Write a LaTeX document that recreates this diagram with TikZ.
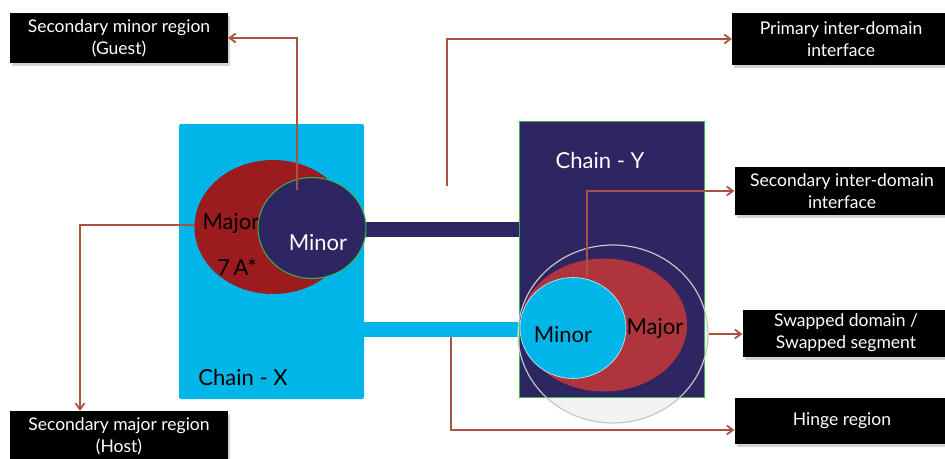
\documentclass[tikz,border=0pt]{standalone}
\usepackage{fontspec}
\setmainfont{Lato}
\usetikzlibrary{arrows.meta,shapes.geometric,shadows,calc}
\definecolor{cyanx}{RGB}{0,181,232}
\definecolor{navyy}{RGB}{46,37,99}
\definecolor{redl}{RGB}{155,27,31}
\definecolor{redr}{RGB}{176,52,62}
\definecolor{arrbrown}{RGB}{168,82,64}
\definecolor{greenb}{RGB}{60,180,80}
\tikzset{
  lbox/.style={fill=black, text=white, align=center, inner sep=0pt,
    font=\fontsize{17.5}{22}\selectfont,
    drop shadow={shadow xshift=2pt, shadow yshift=-3pt, opacity=0.35, fill=gray}},
  arr/.style={draw=arrbrown, line width=1.8pt, -{Straight Barb[length=6pt,width=9pt]}},
  blob/.style={ellipse, inner sep=0pt},
  big/.style={font=\fontsize{22}{24}\selectfont},
}
\begin{document}
\begin{tikzpicture}[x=1pt,y=-1pt]
\path[use as bounding box] (0,0) rectangle (945,458);
% label boxes
\node[lbox, minimum width=218, minimum height=50] (guest) at (119,38) {Secondary minor region\\(Guest)};
\node[lbox, minimum width=218, minimum height=50] (host) at (119,436) {Secondary major region\\(Host)};
\node[lbox, minimum width=218, minimum height=52] (primary) at (841,39) {Primary inter-domain\\interface};
\node[lbox, minimum width=215, minimum height=48] (secint) at (842,191) {Secondary inter-domain\\interface};
\node[lbox, minimum width=207, minimum height=47] (swap) at (846,333) {Swapped domain /\\Swapped segment};
\node[lbox, minimum width=215, minimum height=46] (hinge) at (842,421) {Hinge region};
% chain X
\node[fill=cyanx, rounded corners=2pt, minimum width=185, minimum height=275, inner sep=0pt] (chx) at (271.5,261.5) {};
% bars
\node[fill=navyy, minimum width=159, minimum height=15, inner sep=0pt] (barn) at (440,229.5) {};
\node[fill=cyanx, minimum width=166, minimum height=15, inner sep=0pt] (barc) at (447,329.5) {};
% chain Y with big circle
\node[blob, fill=gray!10, minimum width=190, minimum height=178] (bigcf) at (613,334) {};
\node[fill=navyy, draw=greenb, line width=0.6pt, minimum width=185, minimum height=276, inner sep=0pt] (chy) at (611.5,259) {};
\node[text=white, big] (chylab) at (600,160) {Chain - Y};
% left domains
\node[blob, fill=redl, minimum width=157, minimum height=134] (majl) at (273,227) {};
\node[big] (majltxt) at (231,223) {Major};
\node[big] (sevena) at (237,267) {7\,A*};
\node[blob, fill=navyy, draw=greenb, line width=1pt, minimum width=108, minimum height=101] (minl) at (312,228) {};
\node[big, text=white] (minltxt) at (318,243) {Minor};
\node[big] (chxlab) at (243,377) {Chain - X};
% right domains
\node[blob, fill=redr, minimum width=166, minimum height=133] (majr) at (604,325) {};
\node[blob, fill=cyanx, draw=white!80!cyanx, line width=0.6pt, minimum width=106, minimum height=101] (minr) at (573,328) {};
\node[big] (minrtxt) at (563,335) {Minor};
\node[big] (majrtxt) at (655,328) {Major};
\node[blob, draw=gray!45, line width=1.2pt, minimum width=190, minimum height=178] (bigc) at (613,334) {};
% connector start points
\coordinate (gs) at (297,190);
\coordinate (ps) at (447,186);
\coordinate (ss) at (587,277);
\coordinate (hs) at (451,337);
\coordinate (ms) at (195,225);
% connectors
\draw[arr] (gs) |- (guest.east);
\draw[arr] (ps) |- (primary.west);
\draw[arr] (ss) |- (secint.west);
\draw[arr] (bigc.east) -- (swap.west |- bigc.east);
\draw[arr] (hs) |- ($(hinge.west)+(0,9)$);
\draw[arr] (ms) -| ($(host.north)+(-39,0)$);
\end{tikzpicture}
\end{document}
